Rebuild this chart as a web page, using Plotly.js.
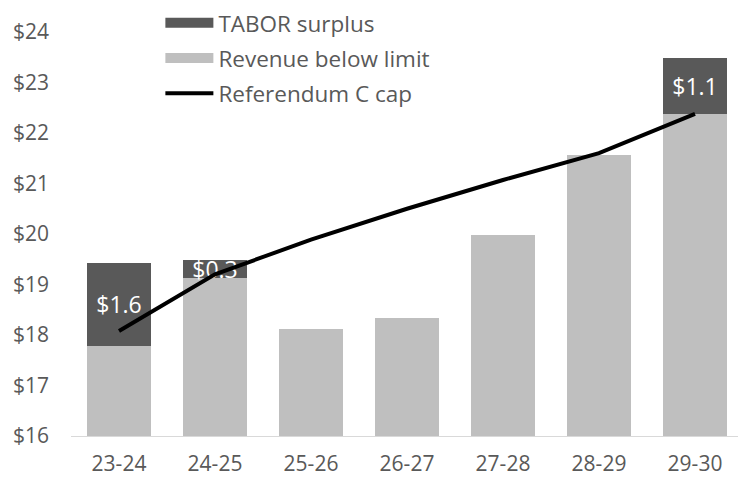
<!DOCTYPE html>
<html><head><meta charset="utf-8">
<script src="https://cdn.plot.ly/plotly-3.0.1.min.js"></script>
<style>html,body{margin:0;padding:0;overflow:hidden;background:#fff}</style>
</head><body>
<div id="chart" style="width:738px;height:477px"></div>
<script>
const categories = ["23-24","24-25","25-26","26-27","27-28","28-29","29-30"];
const revenueBelowLimit = [17.79, 19.13, 18.12, 18.34, 19.98, 21.56, 22.38];
const taborSurplus = [1.64, 0.35, 0, 0, 0, 0, 1.11];
const surplusLabels = ["$1.6", "$0.3", "", "", "", "", "$1.1"];
const refCCap = [18.08, 19.2, 19.89, 20.5, 21.07, 21.6, 22.38];

const font = "Open Sans, sans-serif";
const darkGrey = "#595959", lightGrey = "#BFBFBF";
const data = [
  {type:"bar", name:"Revenue below limit", x:categories, y:revenueBelowLimit,
   marker:{color:lightGrey}, hoverinfo:"skip", showlegend:false},
  {type:"bar", name:"TABOR surplus", x:categories, y:taborSurplus,
   marker:{color:darkGrey}, text:surplusLabels,
   textposition:"inside", insidetextanchor:"middle", constraintext:"none", textangle:0,
   textfont:{color:"#ffffff", size:23, family:font}, hoverinfo:"skip", showlegend:false},
  {type:"scatter", mode:"lines", name:"Referendum C cap", x:categories, y:refCCap,
   line:{color:"#000000", width:4}, legendgroup:"c", legendrank:3},
  // legend-only swatches for the bar series (wide rectangles like the original)
  {type:"scatter", mode:"lines", name:"TABOR surplus", x:[null], y:[null],
   line:{color:darkGrey, width:14}, legendgroup:"a", legendrank:1},
  {type:"scatter", mode:"lines", name:"Revenue below limit", x:[null], y:[null],
   line:{color:lightGrey, width:14}, legendgroup:"b", legendrank:2}
];
const layout = {
  width:743, height:477,
  margin:{l:71, r:0, t:32, b:41},
  barmode:"stack", bargap:0.333,
  paper_bgcolor:"#ffffff", plot_bgcolor:"#ffffff",
  font:{family:font, color:darkGrey, size:20},
  showlegend:true,
  legend:{x:0.133, y:1.075, xanchor:"left", yanchor:"top", bgcolor:"rgba(0,0,0,0)",
          font:{size:22.5, color:darkGrey, family:font}, traceorder:"grouped", tracegroupgap:3, itemwidth:48},
  xaxis:{type:"category", showgrid:false, showline:true, linecolor:"#d9d9d9", linewidth:1,
         ticks:"", tickfont:{size:21, color:darkGrey}, ticklabelstandoff:9, fixedrange:true},
  yaxis:{range:[16,24], dtick:1, tickprefix:"$", showgrid:false, zeroline:false, showline:false,
         ticks:"", tickfont:{size:21, color:darkGrey}, ticklabelstandoff:21, fixedrange:true}
};
Plotly.newPlot("chart", data, layout, {displayModeBar:false, staticPlot:true});
</script>
</body></html>
